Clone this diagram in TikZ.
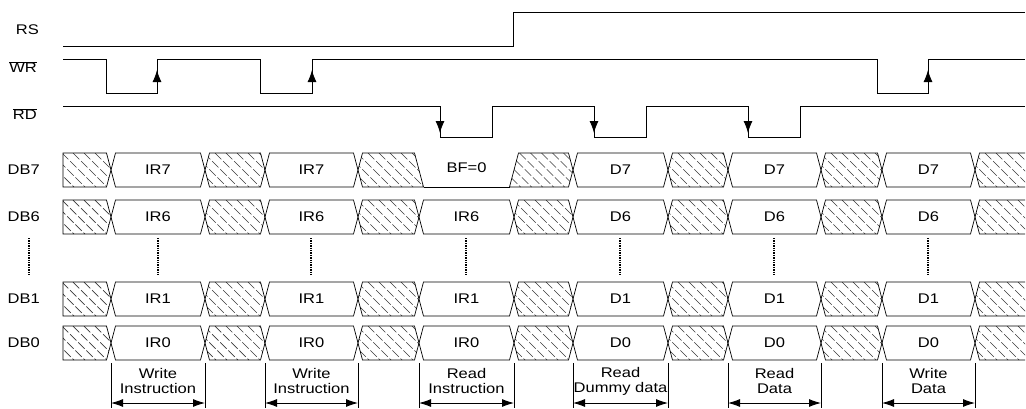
\documentclass[tikz,border=0pt]{standalone}
\usepackage{fontspec}
\setmainfont{Liberation Sans}[FakeStretch=1.18]
\usetikzlibrary{positioning,calc,arrows.meta}

\tikzset{
    sigline/.style={line width=0.8pt},
    busline/.style={line width=0.7pt},
    hatchline/.style={gray!45!black, line width=0.7pt, dash pattern=on 9pt off 2.5pt},
    edgeArrow/.style={-{Latex[length=12pt,width=9pt]}, line width=0.8pt},
    dimArrow/.style={{Latex[length=12pt,width=8pt]}-{Latex[length=12pt,width=8pt]}, line width=0.9pt},
    sigLabel/.style={anchor=east, font=\fontsize{14}{16}\selectfont, inner sep=0pt},
    dataLabel/.style={font=\fontsize{14}{16}\selectfont, inner sep=0pt},
    dimLabel/.style={align=center, font=\fontsize{14}{15}\selectfont, inner sep=0pt},
    vdots/.style={line width=1.8pt, dash pattern=on 1.3pt off 1.1pt}
}

% hatched (invalid) part of a bus row: #1 outline, #2 left x, #3 top y, #4 bottom y
\newcommand{\hatchblk}[4]{%
    \begin{scope}
        \clip #1;
        \foreach \k in {0,11,...,121}
            \draw[hatchline] ({#2-34+\k},#3) -- ({#2+\k},#4);
    \end{scope}
    \draw[busline] #1;
}

\begin{document}
\begin{tikzpicture}[x=1pt, y=-1pt]
    \useasboundingbox (0,0) rectangle (1026,408);

    % control lines
    \node[sigLabel] (lblRS) at (39,30) {RS};
    \node[sigLabel] (lblWR) at (37,67) {$\overline{\hbox{WR}}$};
    \node[sigLabel] (lblRD) at (37,114) {$\overline{\hbox{RD}}$};

    \draw[sigline] (63,46) -- (513,46) -- (513,12) -- (1025,12);
    \draw[sigline] (63,59) -- (106,59) -- (106,93) -- (157,93) -- (157,59) -- (260,59) -- (260,93)
        -- (312,93) -- (312,59) -- (877,59) -- (877,93) -- (928,93) -- (928,59) -- (1025,59);
    \draw[sigline] (63,106) -- (440,106) -- (440,137) -- (492,137) -- (492,106) -- (594,106) -- (594,137)
        -- (646,137) -- (646,106) -- (748,106) -- (748,137) -- (800,137) -- (800,106) -- (1025,106);
    \foreach \x in {157,312,928}
        \draw[edgeArrow] (\x,93) -- (\x,70);
    \foreach \x in {440,594,748}
        \draw[edgeArrow] (\x,106) -- (\x,133);

    % data bus
    \foreach \yt/\nm/\bit in {153/DB7/7, 200/DB6/6, 282/DB1/1, 326/DB0/0} {
        \pgfmathsetmacro{\yb}{\yt+34}
        \pgfmathsetmacro{\ym}{\yt+17}
        \node[sigLabel] (lbl\nm) at (40,\ym) {\nm};
        \hatchblk{(63,\yt) -- (106.5,\yt) -- (111,\ym) -- (106.5,\yb) -- (63,\yb) -- cycle}{63}{\yt}{\yb}
        \hatchblk{(1025,\yt) -- (979.5,\yt) -- (975,\ym) -- (979.5,\yb) -- (1025,\yb)}{975}{\yt}{\yb}
        \foreach \xa/\xb in {205/265, 668/728, 821/882} {
            \hatchblk{(\xa,\ym) -- (\xa+4.5,\yt) -- (\xb-4.5,\yt) -- (\xb,\ym) -- (\xb-4.5,\yb) -- (\xa+4.5,\yb) -- cycle}{\xa}{\yt}{\yb}
        }
        \ifnum\bit=7
            \hatchblk{(358,\ym) -- (362.5,\yt) -- (414.5,\yt) -- (423.5,\yb) -- (362.5,\yb) -- cycle}{358}{\yt}{\yb}
            \hatchblk{(509.5,\yb) -- (518.5,\yt) -- (568.5,\yt) -- (573,\ym) -- (568.5,\yb) -- cycle}{509.5}{\yt}{\yb}
            \draw[busline] (423.5,\yb) -- (509.5,\yb);
            \node[dataLabel] (busy) at (466.5,\ym-2) {BF=0};
        \else
            \foreach \xa/\xb in {358/419, 514/573} {
                \hatchblk{(\xa,\ym) -- (\xa+4.5,\yt) -- (\xb-4.5,\yt) -- (\xb,\ym) -- (\xb-4.5,\yb) -- (\xa+4.5,\yb) -- cycle}{\xa}{\yt}{\yb}
            }
        \fi
        \foreach \xa/\xb/\pre [count=\i] in {111/205/IR, 265/358/IR, 419/514/IR, 573/668/D, 728/821/D, 882/975/D} {
            \ifnum\bit\i=73 \else
                \draw[busline] (\xa,\ym) -- (\xa+4.5,\yt) -- (\xb-4.5,\yt) -- (\xb,\ym) -- (\xb-4.5,\yb) -- (\xa+4.5,\yb) -- cycle;
                \node[dataLabel] (d\bit-\i) at ({(\xa+\xb)/2},\ym) {\pre\bit};
            \fi
        }
    }

    \foreach \x in {29,158,311,466,620,774,928}
        \draw[vdots] (\x,238) -- (\x,276);

    % cycle markers
    \foreach \xa/\xb/\txt [count=\i] in {111/205/{Write\\Instruction}, 265/358/{Write\\Instruction},
            419/514/{Read\\Instruction}, 573/668/{Read\\Dummy data}, 728/821/{Read\\Data}, 882/975/{Write\\Data}} {
        \coordinate (dimL\i) at (\xa,403);
        \coordinate (dimR\i) at (\xb,403);
        \draw[sigline] (\xa,363) -- (\xa,408);
        \draw[sigline] (\xb,363) -- (\xb,408);
        \draw[dimArrow] (dimL\i) -- (dimR\i);
        \node[dimLabel] (dim\i) at ({(\xa+\xb)/2},381) {\txt};
    }
\end{tikzpicture}
\end{document}
